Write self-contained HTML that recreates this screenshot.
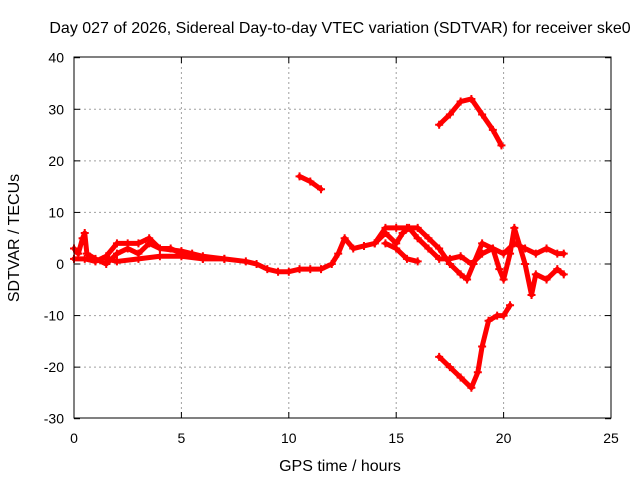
<!DOCTYPE html>
<html><head><meta charset="utf-8"><style>
body{margin:0;background:#fff}
svg text{font-family:"Liberation Sans",sans-serif;font-size:14px;fill:#000}
svg text.big{font-size:16px}
</style></head><body>
<svg id="chart" width="640" height="480" xmlns="http://www.w3.org/2000/svg">
<text class="big" x="340" y="33" text-anchor="middle">Day 027 of 2026, Sidereal Day-to-day VTEC variation (SDTVAR) for receiver ske0</text>
<text class="big" x="340" y="471" text-anchor="middle">GPS time / hours</text>
<text class="big" transform="translate(19,238) rotate(-90)" text-anchor="middle">SDTVAR / TECUs</text>
<g id="grid"></g><g id="ticks"></g><g id="marks"></g>
<rect x="74" y="57" width="537" height="361" fill="none" stroke="#000" stroke-width="1"/>
</svg>
<script>
const xTicks=[0,5,10,15,20,25];
const yTicks=[-30,-20,-10,0,10,20,30,40];
const mainTime=[0,0.2,0.4,0.5,0.6,1,1.5,2,2.5,3,3.5,4,4.5,5,5.5,6,7,8,8.5,9,9.5,10,10.5,11,11.5,12,12.3,12.6,13,13.5,14,14.5,15,15.3,15.6,16,16.5,17,17.5,18,18.5,19,19.5,20,20.5,21,21.5,22,22.5,22.8];
const mainVal=[3,2,5,6,2,1,0,2,3,2,4,3,3,2,2,1,1,0.5,0,-1,-1.5,-1.5,-1,-1,-1,0,2,5,3,3.5,4,6,4,6,7,5,3,1,1,1.5,0,2,3,2,4,3,2,3,2,2];
const band2Time=[0,0.5,1,1.5,2,2.5,3,3.5,4,5,6,7];
const band2Val=[1,1,0.5,1.5,4,4,4,5,3,2.5,1.5,1];
const band3Time=[1.5,2,3,4,5,6];
const band3Val=[1,0.5,1,1.5,1.5,1];
const loopTime=[14,14.5,15,15.5,16,16.5,17,17.5,18,18.3,18.6,19,19.5,19.8,20,20.3,20.5,21,21.3,21.5,22,22.5,22.8];
const loopVal=[4,7,7,7,7,5,3,0,-2,-3,0,4,3,-1,-3,2,7,0,-6,-2,-3,-1,-2];
const loop2Time=[14.5,15,15.5,16];
const loop2Val=[4,3,1,0.5];
const arcTime=[17,17.5,18,18.5,19,19.5,19.9];
const arcVal=[27,29,31.5,32,29,26,23];
const shortTime=[10.5,11,11.5];
const shortVal=[17,16,14.5];
const lowTime=[17,17.5,18,18.5,18.8,19,19.3,19.7,20,20.3];
const lowVal=[-18,-20,-22,-24,-21,-16,-11,-10,-10,-8];
const X=t=>74+t*(537/25);
const Y=v=>264-v*(361/70);
const NS="http://www.w3.org/2000/svg";
function mk(tag,attrs,parent){const e=document.createElementNS(NS,tag);for(const k in attrs)e.setAttribute(k,attrs[k]);parent.appendChild(e);return e;}
const grid=document.getElementById('grid'),ticks=document.getElementById('ticks'),marks=document.getElementById('marks');
xTicks.forEach(t=>{
 if(t>0&&t<25){const l=mk('line',{x1:X(t),x2:X(t),y1:57,y2:418,stroke:'#a0a0a0','stroke-dasharray':'2,3'},grid);
 
 }
 mk('line',{x1:X(t),x2:X(t),y1:418,y2:412,stroke:'#000'},ticks);
 mk('line',{x1:X(t),x2:X(t),y1:57,y2:63,stroke:'#000'},ticks);
 const tx=mk('text',{x:X(t),y:443,'text-anchor':'middle'},ticks);tx.textContent=t;
 
 
});
yTicks.forEach(v=>{
 if(v>-30&&v<40){const l=mk('line',{x1:74,x2:611,y1:Y(v),y2:Y(v),stroke:'#a0a0a0','stroke-dasharray':'2,3'},grid);
 
 }
 mk('line',{x1:74,x2:80,y1:Y(v),y2:Y(v),stroke:'#000'},ticks);
 mk('line',{x1:611,x2:605,y1:Y(v),y2:Y(v),stroke:'#000'},ticks);
 const tx=mk('text',{x:64,y:Y(v)+5,'text-anchor':'end'},ticks);tx.textContent=v;
 
 
});
function series(ts,vs,name){
 const g=mk('g',{},marks);
 
 
 mk('polyline',{points:ts.map((t,i)=>X(t)+','+Y(vs[i])).join(' '),fill:'none',stroke:'#f00','stroke-width':5,'stroke-linejoin':'round','stroke-linecap':'round'},g);
 ts.forEach((t,i)=>{const x=X(t),y=Y(vs[i]);
  const p=mk('path',{d:`M${x-4},${y}h8M${x},${y-4}v8`,stroke:'#f00','stroke-width':2},g);
  
  });
}
series(mainTime,mainVal,'main-trace');
series(band2Time,band2Val,'upper-band-trace');
series(band3Time,band3Val,'lower-band-trace');
series(loopTime,loopVal,'late-loop-trace');
series(loop2Time,loop2Val,'late-loop-lower-trace');
series(arcTime,arcVal,'high-arc-trace');
series(shortTime,shortVal,'short-segment-trace');
series(lowTime,lowVal,'negative-arc-trace');
</script>
</body></html>
